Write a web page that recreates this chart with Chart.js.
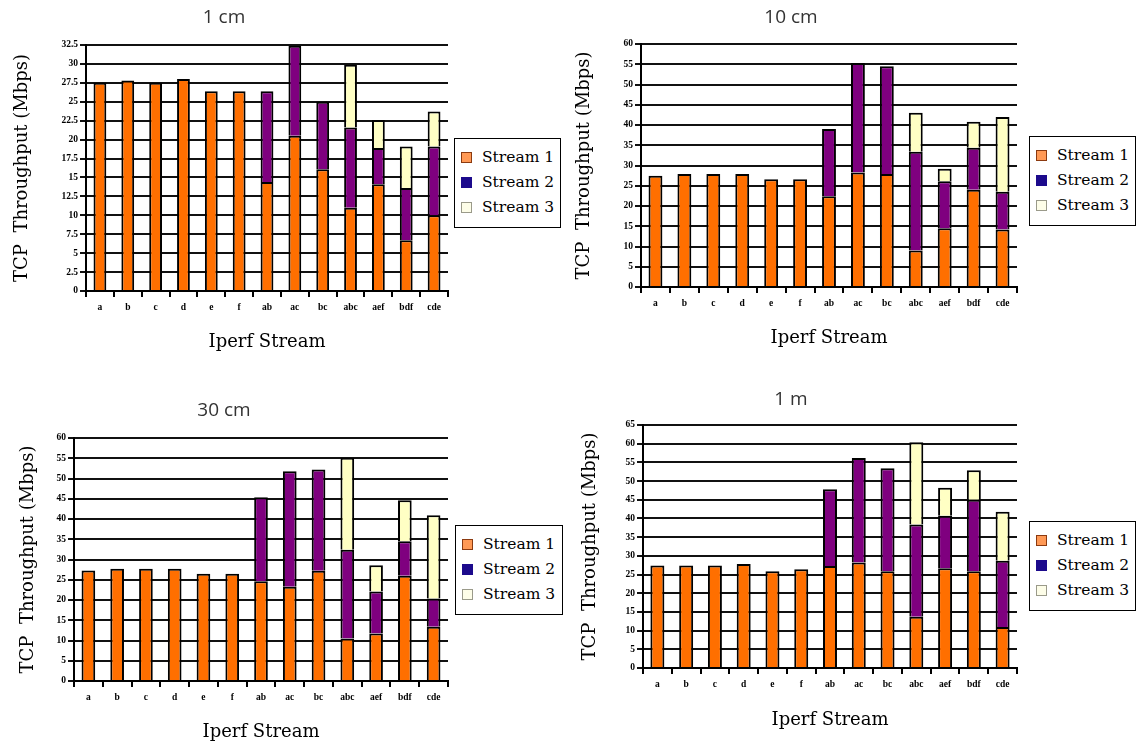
<!DOCTYPE html>
<html>
<head>
<meta charset="utf-8">
<title>TCP Throughput per Iperf Stream</title>
<script src="https://cdn.jsdelivr.net/npm/chart.js@4.4.0/dist/chart.umd.min.js"></script>
<style>
  body { margin: 0; background: #fff; width: 1138px; height: 744px; position: relative; overflow: hidden; }
  canvas { position: absolute; }
  .legend { position: absolute; border: 1.5px solid #000; padding: 6px 4px; box-sizing: border-box; height: 90px;
            font-family: "DejaVu Serif", serif; font-size: 15.5px; color: #000; background: #fff; }
  .legend div { height: 25px; line-height: 25px; white-space: nowrap; }
  .legend span { display: inline-block; width: 11px; height: 11px; box-sizing: border-box; border: 1px solid;
                 margin: 0 10px 0 2px; vertical-align: -1px; }
</style>
</head>
<body>
<canvas id="chart1cm" width="554" height="360" style="left:0;top:0"></canvas>
<canvas id="chart10cm" width="566" height="360" style="left:565px;top:0"></canvas>
<canvas id="chart30cm" width="544" height="359" style="left:0;top:385px"></canvas>
<canvas id="chart1m" width="570" height="364" style="left:565px;top:380px"></canvas>
<script>
const categories = ['a', 'b', 'c', 'd', 'e', 'f', 'ab', 'ac', 'bc', 'abc', 'aef', 'bdf', 'cde'];
const streamNames = ['Stream 1', 'Stream 2', 'Stream 3'];

// 1 cm
const stream1_1cm = [27.5, 27.8, 27.5, 28.0, 26.4, 26.4, 14.4, 20.5, 16.1, 11.0, 14.1, 6.7, 10.0];
const stream2_1cm = [null, null, null, null, null, null, 12.0, 11.9, 8.9, 10.6, 4.8, 6.9, 9.1];
const stream3_1cm = [null, null, null, null, null, null, null, null, null, 8.3, 3.7, 5.5, 4.6];

// 10 cm
const stream1_10cm = [27.5, 27.9, 27.9, 27.9, 26.6, 26.6, 22.4, 28.3, 27.9, 9.0, 14.5, 24.0, 14.2];
const stream2_10cm = [null, null, null, null, null, null, 16.6, 27.0, 26.6, 24.4, 11.6, 10.4, 9.3];
const stream3_10cm = [null, null, null, null, null, null, null, null, null, 9.6, 3.1, 6.4, 18.5];

// 30 cm
const stream1_30cm = [27.3, 27.7, 27.7, 27.7, 26.5, 26.5, 24.6, 23.3, 27.2, 10.5, 11.7, 26.0, 13.4];
const stream2_30cm = [null, null, null, null, null, null, 20.8, 28.5, 25.0, 21.9, 10.4, 8.5, 7.0];
const stream3_30cm = [null, null, null, null, null, null, null, null, null, 22.7, 6.5, 10.1, 20.5];

// 1 m
const stream1_1m = [27.4, 27.4, 27.4, 27.8, 25.9, 26.4, 27.3, 28.2, 25.9, 13.7, 26.7, 25.9, 11.0];
const stream2_1m = [null, null, null, null, null, null, 20.5, 28.0, 27.5, 24.7, 14.0, 19.1, 17.7];
const stream3_1m = [null, null, null, null, null, null, null, null, null, 22.0, 7.5, 7.9, 13.1];

const barColors = ['#ff6f00', '#7f007f', '#ffffc4'];
const legendFill = ['#ff9955', '#1c0a8c', '#fdfde8'];
const legendEdge = ['#8b3a10', '#1c0a8c', '#9a9a8a'];

const panels = [
    { id: 'chart1cm', title: '1 cm', series: [stream1_1cm, stream2_1cm, stream3_1cm], yMax: 32.5, yStep: 2.5,
      left: 0, top: 0, height: 360, plotLeft: 86, plotRight: 448, plotTop: 45, plotBottom: 291,
      titleY: 18, yTitleX: 22, xTitleY: 342, bar: 0.46, legend: { left: 454, top: 138, width: 107 } },
    { id: 'chart10cm', title: '10 cm', series: [stream1_10cm, stream2_10cm, stream3_10cm], yMax: 60, yStep: 5,
      left: 565, top: 0, height: 360, plotLeft: 641, plotRight: 1017, plotTop: 44, plotBottom: 287,
      titleY: 18, yTitleX: 584, xTitleY: 338, bar: 0.48, legend: { left: 1029, top: 136, width: 107 } },
    { id: 'chart30cm', title: '30 cm', series: [stream1_30cm, stream2_30cm, stream3_30cm], yMax: 60, yStep: 5,
      left: 0, top: 385, height: 359, plotLeft: 74, plotRight: 448, plotTop: 438, plotBottom: 681,
      titleY: 411, yTitleX: 28, xTitleY: 732, bar: 0.475, legend: { left: 455, top: 525, width: 108 } },
    { id: 'chart1m', title: '1 m', series: [stream1_1m, stream2_1m, stream3_1m], yMax: 65, yStep: 5,
      left: 565, top: 380, height: 364, plotLeft: 643, plotRight: 1017, plotTop: 425, plotBottom: 668,
      titleY: 400, yTitleX: 590, xTitleY: 720, bar: 0.486, legend: { left: 1029, top: 521, width: 107 } },
];

const tickFont = { family: '"Liberation Serif", serif', size: 9.5, weight: 'bold' };
const axisFont = { family: '"DejaVu Serif", serif', size: 18, lineHeight: 1.2 };
const titleFont = { family: '"Open Sans", sans-serif', size: 19, weight: 'normal', lineHeight: 1.2 };

const renderLegend = (chart, pos) => {
    const box = document.createElement('div');
    box.className = 'legend';
    box.style.left = pos.left + 'px';
    box.style.top = pos.top + 'px';
    box.style.width = pos.width + 'px';
    chart.data.datasets.forEach((ds, i) => {
        const row = document.createElement('div');
        const swatch = document.createElement('span');
        swatch.style.background = legendFill[i];
        swatch.style.borderColor = legendEdge[i];
        row.appendChild(swatch);
        row.appendChild(document.createTextNode(ds.label));
        box.appendChild(row);
    });
    document.body.appendChild(box);
};

const renderPanel = (p) => {
    const canvas = document.getElementById(p.id);
    const titleLH = titleFont.size * titleFont.lineHeight;
    const axisLH = axisFont.size * axisFont.lineHeight;
    const titleTop = p.titleY - p.top - titleLH / 2;
    const titleBottom = p.plotTop - p.top - titleTop - titleLH;

    const chart = new Chart(canvas.getContext('2d'), {
        type: 'bar',
        data: {
            labels: categories,
            datasets: p.series.map((values, i) => ({
                label: streamNames[i],
                data: values,
                backgroundColor: barColors[i],
                borderColor: '#000',
                borderWidth: 2,
                borderSkipped: 'start',
                inflateAmount: 0,
                barPercentage: p.bar,
                categoryPercentage: 1,
            })),
        },
        options: {
            responsive: false,
            animation: false,
            layout: { padding: { left: 0, top: 0, bottom: 0, right: p.left + canvas.width - p.plotRight } },
            plugins: {
                legend: { display: false },
                tooltip: { enabled: false },
                title: {
                    display: true,
                    text: p.title,
                    color: '#333',
                    font: titleFont,
                    padding: { top: titleTop, bottom: titleBottom },
                },
            },
            scales: {
                x: {
                    stacked: true,
                    grid: { display: true, drawOnChartArea: false, color: '#000', lineWidth: 2, tickLength: 6, offset: true },
                    border: { display: true, color: '#000', width: 2 },
                    ticks: { color: '#000', font: tickFont, padding: 5, maxRotation: 0, autoSkip: false },
                    title: {
                        display: true,
                        text: 'Iperf Stream',
                        color: '#000',
                        font: axisFont,
                        padding: { top: 0, bottom: p.top + p.height - p.xTitleY - axisLH / 2 },
                    },
                    afterFit: (scale) => { scale.height = p.top + p.height - p.plotBottom; },
                },
                y: {
                    stacked: true,
                    min: 0,
                    max: p.yMax,
                    grid: { color: '#111', lineWidth: 2, tickLength: 6 },
                    border: { display: true, color: '#000', width: 2 },
                    ticks: { stepSize: p.yStep, color: '#000', font: tickFont, padding: 2 },
                    title: {
                        display: true,
                        text: 'TCP  Throughput (Mbps)',
                        color: '#000',
                        font: axisFont,
                        padding: { top: p.yTitleX - p.left - axisLH / 2, bottom: 0 },
                    },
                    afterFit: (scale) => { scale.width = p.plotLeft - p.left; },
                },
            },
        },
    });

    renderLegend(chart, p.legend);
};

panels.forEach(renderPanel);
</script>
</body>
</html>
